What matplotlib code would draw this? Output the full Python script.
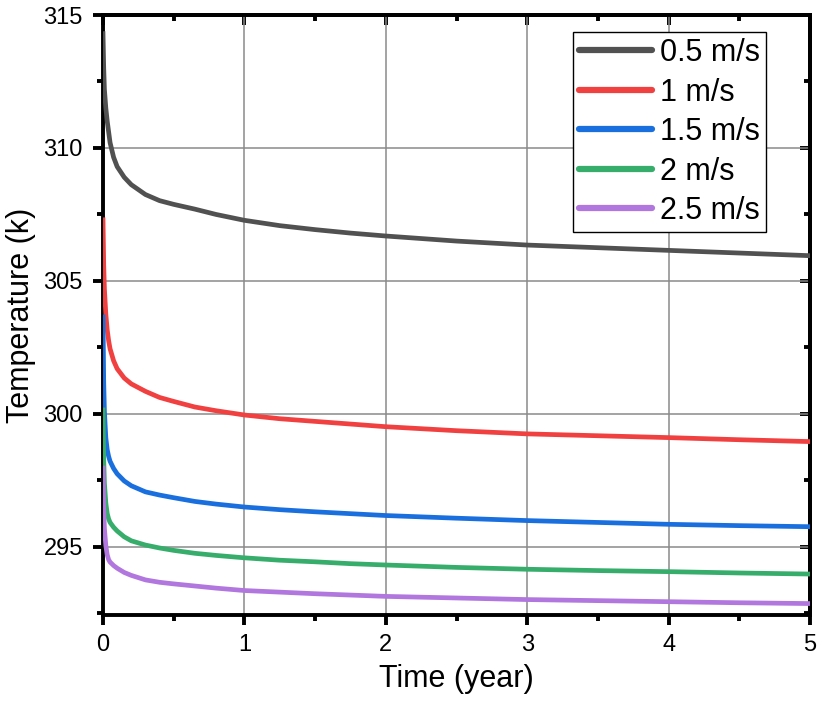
import matplotlib
matplotlib.use("Agg")
import matplotlib.pyplot as plt
from matplotlib.ticker import MultipleLocator

plt.rcParams['font.family'] = ['Liberation Sans', 'DejaVu Sans']

time = [0, 0.005, 0.01, 0.02, 0.03, 0.04, 0.05, 0.075, 0.1, 0.15, 0.2, 0.3, 0.4, 0.5,
        0.65, 0.8, 1, 1.25, 1.5, 1.75, 2, 2.5, 3, 3.5, 4, 4.5, 5]
v05 = [314.3, 313.0, 312.2, 311.5, 311.0, 310.6, 310.2, 309.65, 309.3, 308.9, 308.62, 308.25, 308.02, 307.88,
       307.7, 307.5, 307.28, 307.08, 306.93, 306.8, 306.69, 306.5, 306.35, 306.25, 306.15, 306.05, 305.95]
v10 = [307.3, 305.6, 304.7, 303.75, 303.15, 302.75, 302.45, 302.0, 301.7, 301.35, 301.13, 300.85, 300.62, 300.47,
       300.26, 300.12, 299.96, 299.82, 299.72, 299.62, 299.52, 299.37, 299.25, 299.18, 299.11, 299.03, 298.96]
v15 = [303.65, 301.2, 300.1, 299.1, 298.65, 298.4, 298.22, 297.95, 297.75, 297.48, 297.3, 297.07, 296.95, 296.85,
       296.71, 296.61, 296.5, 296.4, 296.32, 296.25, 296.18, 296.08, 295.99, 295.92, 295.85, 295.8, 295.76]
v20 = [300.15, 298.3, 297.4, 296.65, 296.25, 296.05, 295.92, 295.74, 295.6, 295.38, 295.23, 295.07, 294.96, 294.87,
       294.76, 294.68, 294.59, 294.5, 294.44, 294.37, 294.32, 294.23, 294.16, 294.11, 294.07, 294.02, 293.98]
v25 = [297.97, 296.4, 295.7, 295.05, 294.7, 294.52, 294.43, 294.3, 294.2, 294.04, 293.93, 293.76, 293.67, 293.61,
       293.53, 293.45, 293.36, 293.3, 293.24, 293.19, 293.14, 293.08, 293.02, 292.98, 292.94, 292.9, 292.87]

labels = ['0.5 m/s', '1 m/s', '1.5 m/s', '2 m/s', '2.5 m/s']
colors = ['#515151', '#F14040', '#1A6FDF', '#37AD6B', '#B177DE']
series = [v05, v10, v15, v20, v25]

fig = plt.figure(figsize=(8.21, 7.16), dpi=100)
ax = fig.add_axes([103/821, 1-615/716, (810-103)/821, (615-15)/716])

for vals, c, lab in zip(series, colors, labels):
    ax.plot(time, vals, color=c, lw=3.4, label=lab, solid_joinstyle='round', zorder=3)

ax.set_xlim(0, 5)
ax.set_ylim(292.44, 315)
ax.xaxis.set_major_locator(MultipleLocator(1))
ax.xaxis.set_minor_locator(MultipleLocator(0.5))
ax.yaxis.set_major_locator(MultipleLocator(5))
ax.yaxis.set_minor_locator(MultipleLocator(2.5))
ax.grid(True, which='major', color='#8a8a8a', lw=1.1, zorder=0)

for s in ax.spines.values():
    s.set_linewidth(2.8)
ax.tick_params(which='major', direction='out', length=7.5, width=2.8, labelsize=17, pad=7)
ax.tick_params(axis='x', which='major', pad=6)
ax.tick_params(which='minor', direction='out', length=4, width=2.8)

sx = ax.secondary_xaxis('top')
sx.xaxis.set_major_locator(MultipleLocator(1))
sx.xaxis.set_minor_locator(MultipleLocator(0.5))
sx.tick_params(which='major', direction='in', length=7, width=2.8, labeltop=False)
sx.tick_params(which='minor', direction='in', length=4, width=2.8)
sx.spines['top'].set_linewidth(2.8)

sy = ax.secondary_yaxis('right')
sy.yaxis.set_major_locator(MultipleLocator(5))
sy.yaxis.set_minor_locator(MultipleLocator(2.5))
sy.tick_params(which='major', direction='in', length=7, width=2.8, labelright=False)
sy.tick_params(which='minor', direction='in', length=4, width=2.8)
sy.spines['right'].set_linewidth(2.8)

ax.set_xlabel('Time (year)', fontsize=22)
ax.set_ylabel('Temperature (k)', fontsize=22)
ax.xaxis.set_label_coords(0.5, (615-664)/600)
ax.yaxis.set_label_coords((36-103)/707, 0.5)

leg = ax.legend(loc='upper right', bbox_to_anchor=(766/821, 1-32/716),
                bbox_transform=fig.transFigure, fontsize=22, frameon=True,
                fancybox=False, edgecolor='black', framealpha=1,
                handlelength=2.4, handletextpad=0.25, labelspacing=0.31,
                borderpad=0.2, borderaxespad=0)
leg.get_frame().set_linewidth(1.0)
for h in leg.get_lines():
    h.set_linewidth(4.5)
    h.set_solid_capstyle('round')

fig.savefig('out.png', dpi=100)
